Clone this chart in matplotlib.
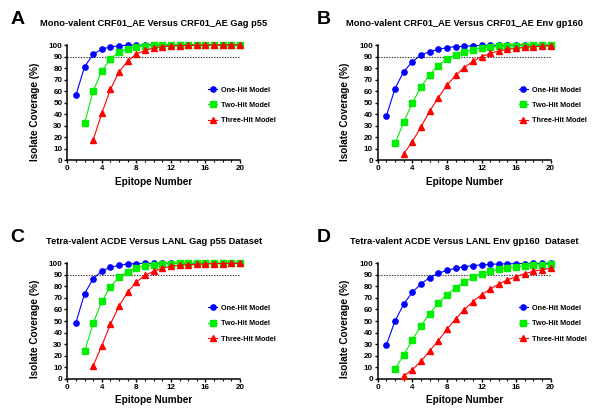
import matplotlib
matplotlib.use("Agg")
import matplotlib.pyplot as plt
import numpy as np

plt.rcParams['font.family'] = ['Liberation Sans', 'DejaVu Sans']
plt.rcParams['font.weight'] = 'bold'

epitopes = list(range(1, 21))

# Panel A
a_one = [56.6, 81.2, 91.9, 96.5, 98.3, 99.4, 99.8, 99.9, 100, 100, 100, 100, 100, 100, 100, 100, 100, 100, 100, 100]
a_two = [32.1, 60.1, 77.7, 87.9, 93.9, 96.8, 98.3, 99.4, 99.7, 99.9, 100, 100, 100, 100, 100, 100, 100, 100, 100]
a_three = [17.6, 41.0, 61.6, 76.9, 86.1, 92.2, 95.4, 97.4, 98.6, 99.1, 99.4, 99.7, 99.8, 99.9, 100, 100, 100, 100]

# Panel B
b_one = [38.4, 62.1, 76.9, 85.5, 91.3, 94.2, 96.2, 97.7, 98.6, 98.8, 99.4, 99.6, 99.7, 99.8, 99.9, 99.9, 100, 100, 100, 100]
b_two = [14.7, 32.9, 49.7, 63.6, 74.3, 82.1, 87.9, 91.6, 94.2, 96.0, 97.4, 98.3, 98.8, 99.1, 99.4, 99.5, 99.6, 99.7, 99.7]
b_three = [5.5, 16.2, 28.9, 42.5, 54.3, 65.0, 73.7, 80.3, 85.8, 89.9, 92.8, 94.8, 96.2, 97.1, 98.0, 98.6, 98.8, 99.4]

# Panel C
c_one = [48.6, 73.7, 86.7, 93.4, 96.5, 98.3, 99.4, 99.7, 100, 100, 100, 100, 100, 100, 100, 100, 100, 100, 100, 100]
c_two = [23.7, 48.0, 67.1, 79.8, 87.9, 92.8, 96.2, 97.7, 98.6, 99.4, 99.7, 100, 100, 100, 100, 100, 100, 100, 100]
c_three = [11.3, 28.6, 47.4, 63.0, 75.1, 83.8, 89.6, 93.1, 95.7, 97.4, 98.3, 98.8, 99.1, 99.4, 99.7, 99.8, 100, 100]

# Panel D
d_one = [29.2, 50.0, 64.5, 74.9, 82.1, 87.6, 91.3, 93.9, 95.7, 97.1, 98.0, 98.6, 99.1, 99.4, 99.6, 99.7, 99.8, 99.9, 100, 100]
d_two = [8.4, 20.5, 33.5, 45.7, 56.4, 65.3, 72.8, 78.9, 83.8, 87.9, 91.0, 93.1, 94.8, 96.0, 97.1, 97.7, 98.3, 98.8, 99.1]
d_three = [2.3, 7.8, 15.0, 24.0, 32.9, 42.8, 51.7, 59.8, 66.8, 72.8, 77.7, 82.1, 85.5, 88.4, 91.0, 93.1, 94.5, 95.7]

series_labels = ['One-Hit Model', 'Two-Hit Model', 'Three-Hit Model']
panel_letters = ['A', 'B', 'C', 'D']
titles = ['Mono-valent CRF01_AE Versus CRF01_AE Gag p55',
          'Mono-valent CRF01_AE Versus CRF01_AE Env gp160',
          'Tetra-valent ACDE Versus LANL Gag p55 Dataset',
          'Tetra-valent ACDE Versus LANL Env gp160  Dataset']
panels = [(a_one, a_two, a_three), (b_one, b_two, b_three),
          (c_one, c_two, c_three), (d_one, d_two, d_three)]

colors = ['#0000FF', '#00EE00', '#FF0000']
markers = ['o', 's', '^']

W, H = 600, 419
fig = plt.figure(figsize=(6, 4.19), dpi=100)

# axes pixel boxes: left, top, right, bottom
boxes = [(67.3, 45.0, 240.0, 160.3), (377.7, 45.0, 550.7, 160.3),
         (67.3, 263.3, 240.0, 378.7), (377.7, 263.3, 550.7, 378.7)]
letter_pos = [(17.5, 19.0), (324.0, 19.0), (17.5, 237.0), (324.0, 237.0)]
title_y = [24.0, 24.0, 241.7, 241.7]

for i, (box, data) in enumerate(zip(boxes, panels)):
    l, t, r, b = box
    ax = fig.add_axes([l / W, 1 - b / H, (r - l) / W, (b - t) / H])
    for j, ys in enumerate(data):
        xs = epitopes[j:]
        ax.plot(xs, ys, color=colors[j], marker=markers[j], markersize=3.8,
                lw=0.8, clip_on=False, label=series_labels[j], zorder=3)
    ax.axhline(90, color='#333333', lw=0.8, ls=(0, (1.2, 1.2)), zorder=2)
    ax.set_xlim(0, 20)
    ax.set_ylim(0, 100)
    ax.set_xticks(range(0, 21, 4))
    ax.set_xticks(range(0, 21, 1), minor=True)
    ax.set_yticks(range(0, 101, 10))
    for s in ['top', 'right']:
        ax.spines[s].set_visible(False)
    for s in ['left', 'bottom']:
        ax.spines[s].set_linewidth(1.1)
    ax.tick_params(axis='both', which='major', direction='out', length=2.5,
                   width=1.0, labelsize=5.8, pad=1.0)
    ax.tick_params(axis='x', which='minor', direction='out', length=1.6, width=0.8)
    for lab in ax.get_xticklabels() + ax.get_yticklabels():
        lab.set_fontweight('bold')
    ax.set_xlabel('Epitope Number', fontsize=7.2, fontweight='bold')
    ax.set_ylabel('Isolate Coverage (%)', fontsize=7.2, fontweight='bold')
    ax.xaxis.set_label_coords(0.5, -0.186)
    ax.xaxis.label.set_va('center')
    yl_frac = 0.42 if i < 2 else 0.43
    ax.yaxis.set_label_coords(-0.187, yl_frac)
    ax.yaxis.label.set_va('center')
    ax.text(0.5, 1 + (t - title_y[i]) / (b - t), titles[i], transform=ax.transAxes,
            ha='center', va='center', fontsize=6.7, fontweight='bold')
    lx, ly = letter_pos[i]
    fig.text(lx / W, 1 - ly / H, panel_letters[i], ha='center', va='center',
             fontsize=14, fontweight='bold')
    leg = ax.legend(loc='upper left', bbox_to_anchor=(0.815, 0.64), frameon=False,
                    handlelength=1.3, handletextpad=0.5,
                    labelspacing=1.15, borderpad=0, borderaxespad=0,
                    prop={'weight': 'bold', 'size': 5.2})

fig.savefig('out.png', dpi=100)
